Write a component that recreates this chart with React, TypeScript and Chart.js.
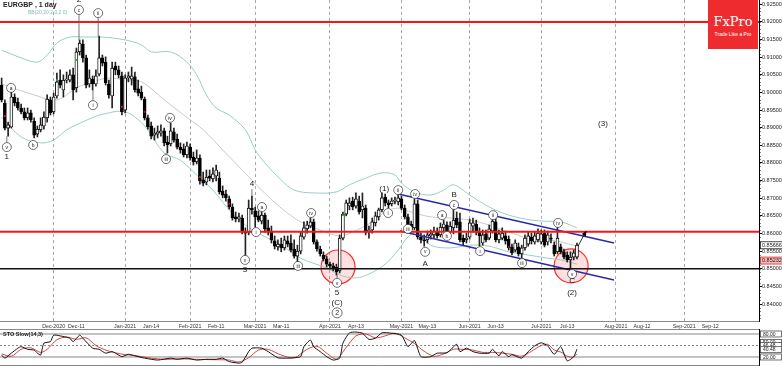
import React, { useEffect, useRef } from 'react';
import { Chart, registerables } from 'chart.js';

Chart.register(...registerables);

const FONT = "'Liberation Sans', Arial, sans-serif";
Chart.defaults.font.family = FONT;

// EURGBP daily candles, x = trading-day index (0 = 9 Nov 2020)
const opens = [
  0.9021, 0.8970, 0.8899, 0.8902, 0.8987, 0.8973, 0.8956, 0.8945, 0.8928, 0.8942,
  0.8919, 0.8882, 0.8894, 0.8905, 0.8928, 0.8979, 0.8945, 0.8990, 0.9035, 0.9007,
  0.9035, 0.9035, 0.9050, 0.9013, 0.9115, 0.9137, 0.9098, 0.9024, 0.9038, 0.9024,
  0.9052, 0.9098, 0.9086, 0.9024, 0.8990, 0.9075, 0.9064, 0.9047, 0.8950, 0.9041,
  0.9038, 0.9044, 0.9010, 0.9001, 0.8981, 0.8928, 0.8905, 0.8879, 0.8882, 0.8885,
  0.8891, 0.8859, 0.8854, 0.8888, 0.8868, 0.8845, 0.8840, 0.8823, 0.8845, 0.8817,
  0.8803, 0.8814, 0.8752, 0.8746, 0.8763, 0.8755, 0.8763, 0.8757, 0.8720, 0.8712,
  0.8698, 0.8675, 0.8647, 0.8641, 0.8644, 0.8604, 0.8604, 0.8672, 0.8664, 0.8650,
  0.8635, 0.8652, 0.8616, 0.8607, 0.8579, 0.8562, 0.8570, 0.8559, 0.8579, 0.8573,
  0.8556, 0.8536, 0.8550, 0.8590, 0.8613, 0.8621, 0.8633, 0.8576, 0.8556, 0.8539,
  0.8528, 0.8513, 0.8508, 0.8505, 0.8494, 0.8587, 0.8655, 0.8678, 0.8692, 0.8678,
  0.8692, 0.8667, 0.8672, 0.8604, 0.8610, 0.8630, 0.8647, 0.8667, 0.8703, 0.8687,
  0.8684, 0.8692, 0.8690, 0.8698, 0.8672, 0.8647, 0.8627, 0.8616, 0.8684, 0.8590,
  0.8582, 0.8582, 0.8593, 0.8596, 0.8607, 0.8596, 0.8616, 0.8624, 0.8604, 0.8616,
  0.8644, 0.8633, 0.8587, 0.8582, 0.8590, 0.8621, 0.8627, 0.8604, 0.8573, 0.8599,
  0.8587, 0.8607, 0.8633, 0.8582, 0.8587, 0.8593, 0.8584, 0.8562, 0.8553, 0.8562,
  0.8542, 0.8559, 0.8570, 0.8590, 0.8576, 0.8582, 0.8576, 0.8601, 0.8576, 0.8587,
  0.8567, 0.8548, 0.8562, 0.8548, 0.8539, 0.8525, 0.8533, 0.8533,
];
const highs = [
  0.9041, 0.8979, 0.8916, 0.9001, 0.8996, 0.8984, 0.8967, 0.8956, 0.8956, 0.8950,
  0.8928, 0.8905, 0.8928, 0.8945, 0.8993, 0.8987, 0.8998, 0.9055, 0.9064, 0.9050,
  0.9058, 0.9064, 0.9069, 0.9126, 0.9149, 0.9149, 0.9106, 0.9064, 0.9047, 0.9064,
  0.9160, 0.9106, 0.9101, 0.9035, 0.9086, 0.9086, 0.9075, 0.9058, 0.9050, 0.9058,
  0.9072, 0.9058, 0.9035, 0.9018, 0.8987, 0.8936, 0.8916, 0.8899, 0.8905, 0.8908,
  0.8899, 0.8876, 0.8913, 0.8899, 0.8882, 0.8857, 0.8854, 0.8859, 0.8854, 0.8831,
  0.8837, 0.8823, 0.8774, 0.8780, 0.8780, 0.8786, 0.8794, 0.8774, 0.8735, 0.8723,
  0.8706, 0.8684, 0.8661, 0.8658, 0.8652, 0.8616, 0.8695, 0.8706, 0.8675, 0.8664,
  0.8661, 0.8658, 0.8638, 0.8621, 0.8593, 0.8582, 0.8587, 0.8593, 0.8593, 0.8596,
  0.8582, 0.8567, 0.8604, 0.8633, 0.8635, 0.8644, 0.8641, 0.8582, 0.8564, 0.8548,
  0.8536, 0.8519, 0.8516, 0.8513, 0.8596, 0.8661, 0.8695, 0.8701, 0.8703, 0.8715,
  0.8706, 0.8715, 0.8681, 0.8621, 0.8644, 0.8661, 0.8672, 0.8715, 0.8712, 0.8695,
  0.8701, 0.8703, 0.8709, 0.8706, 0.8681, 0.8655, 0.8635, 0.8698, 0.8695, 0.8601,
  0.8596, 0.8607, 0.8610, 0.8618, 0.8616, 0.8630, 0.8638, 0.8633, 0.8633, 0.8678,
  0.8661, 0.8658, 0.8596, 0.8601, 0.8641, 0.8644, 0.8638, 0.8616, 0.8610, 0.8610,
  0.8624, 0.8652, 0.8644, 0.8610, 0.8616, 0.8604, 0.8593, 0.8570, 0.8582, 0.8573,
  0.8567, 0.8596, 0.8604, 0.8601, 0.8604, 0.8613, 0.8610, 0.8610, 0.8607, 0.8599,
  0.8576, 0.8627, 0.8570, 0.8556, 0.8548, 0.8548, 0.8553, 0.8573,
];
const lows = [
  0.8973, 0.8894, 0.8876, 0.8899, 0.8962, 0.8950, 0.8939, 0.8922, 0.8922, 0.8916,
  0.8871, 0.8874, 0.8888, 0.8896, 0.8916, 0.8936, 0.8939, 0.8984, 0.9013, 0.8987,
  0.9027, 0.9030, 0.8979, 0.9001, 0.9106, 0.9086, 0.9013, 0.9015, 0.9007, 0.9018,
  0.9047, 0.9075, 0.9021, 0.8984, 0.8956, 0.9050, 0.9041, 0.8936, 0.8942, 0.9030,
  0.9021, 0.9001, 0.8990, 0.8979, 0.8922, 0.8896, 0.8868, 0.8865, 0.8871, 0.8876,
  0.8848, 0.8828, 0.8848, 0.8859, 0.8840, 0.8828, 0.8817, 0.8814, 0.8808, 0.8794,
  0.8797, 0.8740, 0.8735, 0.8738, 0.8749, 0.8746, 0.8749, 0.8712, 0.8701, 0.8692,
  0.8669, 0.8638, 0.8633, 0.8633, 0.8599, 0.8536, 0.8596, 0.8655, 0.8618, 0.8633,
  0.8627, 0.8604, 0.8596, 0.8573, 0.8556, 0.8553, 0.8548, 0.8553, 0.8562, 0.8548,
  0.8530, 0.8519, 0.8542, 0.8584, 0.8601, 0.8616, 0.8570, 0.8550, 0.8536, 0.8522,
  0.8505, 0.8502, 0.8494, 0.8482, 0.8488, 0.8582, 0.8650, 0.8667, 0.8667, 0.8672,
  0.8655, 0.8644, 0.8596, 0.8587, 0.8601, 0.8621, 0.8638, 0.8661, 0.8678, 0.8672,
  0.8678, 0.8684, 0.8681, 0.8667, 0.8641, 0.8610, 0.8604, 0.8610, 0.8584, 0.8573,
  0.8564, 0.8573, 0.8584, 0.8587, 0.8587, 0.8590, 0.8604, 0.8587, 0.8596, 0.8599,
  0.8616, 0.8576, 0.8567, 0.8573, 0.8584, 0.8604, 0.8596, 0.8564, 0.8567, 0.8576,
  0.8582, 0.8601, 0.8576, 0.8573, 0.8582, 0.8570, 0.8553, 0.8539, 0.8548, 0.8536,
  0.8528, 0.8553, 0.8564, 0.8570, 0.8570, 0.8576, 0.8570, 0.8562, 0.8567, 0.8573,
  0.8536, 0.8542, 0.8542, 0.8528, 0.8519, 0.8502, 0.8525, 0.8528,
];
const closes = [
  0.8979, 0.8899, 0.8908, 0.8987, 0.8970, 0.8956, 0.8945, 0.8928, 0.8942, 0.8922,
  0.8879, 0.8896, 0.8908, 0.8930, 0.8981, 0.8942, 0.8987, 0.9030, 0.9021, 0.9035,
  0.9038, 0.9050, 0.9007, 0.9115, 0.9140, 0.9098, 0.9021, 0.9041, 0.9024, 0.9047,
  0.9098, 0.9083, 0.9027, 0.8993, 0.9069, 0.9064, 0.9050, 0.8945, 0.9041, 0.9047,
  0.9047, 0.9007, 0.8998, 0.8984, 0.8928, 0.8902, 0.8876, 0.8885, 0.8888, 0.8891,
  0.8857, 0.8851, 0.8891, 0.8865, 0.8845, 0.8837, 0.8823, 0.8848, 0.8814, 0.8803,
  0.8814, 0.8749, 0.8743, 0.8760, 0.8757, 0.8769, 0.8780, 0.8718, 0.8709, 0.8701,
  0.8675, 0.8644, 0.8641, 0.8647, 0.8604, 0.8601, 0.8672, 0.8667, 0.8647, 0.8638,
  0.8652, 0.8613, 0.8604, 0.8582, 0.8564, 0.8570, 0.8559, 0.8582, 0.8570, 0.8553,
  0.8536, 0.8550, 0.8593, 0.8616, 0.8624, 0.8633, 0.8576, 0.8556, 0.8542, 0.8528,
  0.8513, 0.8508, 0.8502, 0.8491, 0.8587, 0.8655, 0.8687, 0.8687, 0.8675, 0.8698,
  0.8661, 0.8678, 0.8604, 0.8610, 0.8633, 0.8650, 0.8667, 0.8701, 0.8687, 0.8681,
  0.8692, 0.8695, 0.8701, 0.8672, 0.8647, 0.8624, 0.8610, 0.8684, 0.8590, 0.8582,
  0.8579, 0.8596, 0.8599, 0.8607, 0.8593, 0.8618, 0.8627, 0.8601, 0.8621, 0.8638,
  0.8624, 0.8582, 0.8576, 0.8587, 0.8630, 0.8630, 0.8604, 0.8593, 0.8596, 0.8582,
  0.8613, 0.8635, 0.8582, 0.8599, 0.8601, 0.8579, 0.8559, 0.8545, 0.8573, 0.8542,
  0.8559, 0.8587, 0.8593, 0.8579, 0.8593, 0.8601, 0.8599, 0.8567, 0.8596, 0.8584,
  0.8542, 0.8587, 0.8548, 0.8533, 0.8525, 0.8533, 0.8545, 0.8567,
];

// Bollinger bands (20, 2.0): [index, price]
const bbUpper: [number, number][] = [
  [0, 0.9120], [6, 0.9098], [11, 0.9086], [14, 0.9106], [17, 0.9140], [21, 0.9157], [26, 0.9157],
  [31, 0.9157], [38, 0.9149], [43, 0.9135], [46, 0.9115], [52, 0.9115], [57, 0.9086], [60, 0.9050],
  [63, 0.8993], [66, 0.8956], [70, 0.8936], [75, 0.8894], [78, 0.8837], [81, 0.8800], [86, 0.8752],
  [90, 0.8723], [96, 0.8715], [103, 0.8718], [107, 0.8738], [112, 0.8757], [117, 0.8772], [121, 0.8766],
  [123, 0.8743], [127, 0.8718], [132, 0.8709], [136, 0.8723], [139, 0.8738], [144, 0.8709], [150, 0.8675],
  [156, 0.8652], [163, 0.8638], [167, 0.8635], [172, 0.8633], [175, 0.8624], [177, 0.8616],
];
const bbMiddle: [number, number][] = [
  [0, 0.9024], [10, 0.8993], [17, 0.8979], [23, 0.9013], [28, 0.9030], [33, 0.9041], [38, 0.9035],
  [43, 0.9030], [50, 0.8979], [56, 0.8936], [62, 0.8894], [68, 0.8837], [74, 0.8780], [80, 0.8723],
  [86, 0.8672], [92, 0.8633], [98, 0.8610], [104, 0.8593], [108, 0.8604], [114, 0.8633], [118, 0.8661],
  [122, 0.8672], [126, 0.8661], [132, 0.8647], [138, 0.8644], [144, 0.8638], [150, 0.8624], [156, 0.8604],
  [162, 0.8587], [168, 0.8582], [172, 0.8576], [177, 0.8564],
];
const bbLower: [number, number][] = [
  [0, 0.8930], [6, 0.8874], [12, 0.8857], [16, 0.8865], [20, 0.8894], [23, 0.8908], [27, 0.8925],
  [31, 0.8938], [38, 0.8945], [44, 0.8905], [50, 0.8828], [55, 0.8808], [60, 0.8766], [65, 0.8723],
  [70, 0.8667], [75, 0.8624], [80, 0.8596], [86, 0.8567], [92, 0.8530], [100, 0.8502], [104, 0.8482],
  [109, 0.8474], [113, 0.8485], [118, 0.8513], [122, 0.8553], [125, 0.8590], [128, 0.8604], [132, 0.8567],
  [138, 0.8559], [144, 0.8567], [150, 0.8564], [156, 0.8548], [162, 0.8539], [168, 0.8530], [172, 0.8525],
  [177, 0.8513],
];

// Slow stochastic (14,3): [index, value]
const stochK: [number, number][] = [
  [0, 25], [1, 17], [3, 30], [5, 43], [6, 47], [8, 40], [10, 38], [11, 30], [12, 25], [13, 56], [15, 60],
  [16, 77], [18, 75], [21, 69], [22, 60], [24, 77], [25, 69], [28, 43], [30, 40], [32, 30], [34, 34],
  [35, 30], [37, 21], [39, 27], [41, 23], [44, 17], [48, 12], [52, 17], [54, 14], [57, 17], [60, 12],
  [63, 14], [66, 14], [68, 17], [70, 8], [73, 4], [74, 6], [76, 34], [77, 43], [80, 43], [82, 34],
  [85, 18], [88, 17], [90, 18], [92, 21], [93, 47], [95, 64], [96, 47], [98, 34], [100, 21], [102, 12],
  [104, 17], [105, 56], [107, 83], [109, 85], [111, 82], [113, 66], [115, 69], [117, 83], [120, 82],
  [123, 77], [125, 47], [127, 63], [129, 21], [132, 21], [134, 30], [137, 31], [140, 53], [141, 34],
  [143, 43], [145, 34], [147, 30], [150, 30], [151, 40], [153, 23], [154, 34], [156, 21], [157, 26],
  [160, 17], [162, 34], [164, 49], [166, 57], [168, 49], [170, 27], [172, 47], [174, 10], [176, 21],
  [177, 40.48],
];
const stochD: [number, number][] = [
  [0, 28], [3, 22], [6, 40], [9, 44], [12, 32], [14, 40], [17, 65], [20, 72], [23, 66], [26, 70],
  [29, 50], [32, 38], [35, 31], [38, 26], [41, 24], [45, 18], [50, 14], [55, 15], [60, 14], [65, 13],
  [70, 12], [73, 7], [76, 18], [79, 38], [82, 40], [86, 25], [90, 18], [94, 40], [97, 48], [100, 30],
  [103, 15], [106, 45], [109, 75], [112, 80], [115, 70], [118, 75], [121, 82], [124, 70], [127, 55],
  [130, 35], [133, 22], [136, 28], [139, 40], [142, 40], [145, 38], [148, 32], [151, 32], [154, 30],
  [157, 27], [160, 22], [163, 35], [166, 50], [168, 53], [170, 38], [172, 33], [174, 22], [176, 20],
  [177, 28],
];

const xTicks: [number, string][] = [
  [16, 'Dec-2020'], [23, 'Dec-11'], [38, 'Jan-2021'], [46, 'Jan-14'], [58, 'Feb-2021'], [66, 'Feb-11'],
  [78, 'Mar-2021'], [86, 'Mar-11'], [101, 'Apr-2021'], [109, 'Apr-13'], [123, 'May-2021'], [131, 'May-13'],
  [144, 'Jun-2021'], [152, 'Jun-13'], [166, 'Jul-2021'], [174, 'Jul-13'], [189, 'Aug-2021'], [197, 'Aug-12'],
  [210, 'Sep-2021'], [218, 'Sep-12'],
];
const monthStarts = [16, 38, 58, 78, 101, 123, 144, 166, 189, 210];

const resistance = 0.92;
const pivotRed = 0.8605;
const support = 0.85;
const channelUpper: [number, number][] = [[122, 0.8712], [188.4, 0.8573]];
const channelLower: [number, number][] = [[122.5, 0.8607], [188.4, 0.8468]];
const circles: [number, number][] = [[103.5, 0.8505], [175.2, 0.8508]];
const arrowPts: [number, number][] = [[177.3, 0.8564], [179.6, 0.8603]];
const redMarks: [number, number][] = [[1, 0.8933], [37, 0.8959], [44, 0.8945], [61, 0.8760], [70, 0.8684], [156, 0.8562]];
const greenMarks: [number, number][] = [[17, 0.9035], [23, 0.9092], [105, 0.8652]];
const lastPrice = 0.85666;
const bidPrice = 0.85232;

type Wave = { i: number; p: number; t: string; c: boolean; to?: number; big?: boolean };
const waves: Wave[] = [
  { i: 1.6, p: 0.8845, t: 'v', c: true, to: 0.8876 },
  { i: 1.6, p: 0.8817, t: '1', c: false },
  { i: 2.9, p: 0.9013, t: 'a', c: true },
  { i: 9.7, p: 0.8851, t: 'b', c: true },
  { i: 23.8, p: 0.9262, t: '2', c: false },
  { i: 23.8, p: 0.9234, t: 'c', c: true, to: 0.9149 },
  { i: 29.7, p: 0.9225, t: 'ii', c: true, to: 0.9160 },
  { i: 28.1, p: 0.8964, t: 'i', c: true, to: 0.9007 },
  { i: 51.8, p: 0.8928, t: 'iv', c: true, to: 0.8913 },
  { i: 50.6, p: 0.8811, t: 'iii', c: true, to: 0.8828 },
  { i: 77.0, p: 0.8740, t: '4', c: false, to: 0.8706 },
  { i: 80.1, p: 0.8675, t: 'a', c: true },
  { i: 78.3, p: 0.8604, t: 'i', c: true },
  { i: 74.9, p: 0.8525, t: 'v', c: true, to: 0.8536 },
  { i: 74.9, p: 0.8496, t: '3', c: false },
  { i: 95.2, p: 0.8658, t: 'iv', c: true },
  { i: 91.2, p: 0.8508, t: 'iii', c: true, to: 0.8519 },
  { i: 103.2, p: 0.8460, t: 'v', c: true, to: 0.8482 },
  { i: 103.2, p: 0.8431, t: '5', c: false },
  { i: 103.2, p: 0.8403, t: '(C)', c: false },
  { i: 103.2, p: 0.8375, t: '2', c: true, big: true },
  { i: 117.7, p: 0.8726, t: '(1)', c: false },
  { i: 118.9, p: 0.8658, t: 'i', c: true },
  { i: 122.0, p: 0.8723, t: 'ii', c: true },
  { i: 125.0, p: 0.8613, t: 'iii', c: true },
  { i: 127.2, p: 0.8712, t: 'iv', c: true },
  { i: 130.3, p: 0.8548, t: 'v', c: true },
  { i: 130.3, p: 0.8514, t: 'A', c: false },
  { i: 135.5, p: 0.8652, t: 'a', c: true },
  { i: 137.0, p: 0.8593, t: 'b', c: true },
  { i: 139.2, p: 0.8709, t: 'B', c: false },
  { i: 139.2, p: 0.8681, t: 'c', c: true },
  { i: 147.2, p: 0.8550, t: 'i', c: true },
  { i: 151.2, p: 0.8652, t: 'ii', c: true },
  { i: 160.1, p: 0.8516, t: 'iii', c: true },
  { i: 171.2, p: 0.8630, t: 'iv', c: true },
  { i: 175.5, p: 0.8485, t: 'v', c: true },
  { i: 175.5, p: 0.8465, t: 'C', c: false },
  { i: 175.5, p: 0.8431, t: '(2)', c: false },
  { i: 185.0, p: 0.8910, t: '(3)', c: false },
];

const stochLabels: [number, string][] = [[80, '80.00'], [58, '50.00'], [50, '46.48'], [39, '40.48'], [20, '20.00']];

const X_MIN = -0.5;
const X_MAX = 233;

const pts = (a: [number, number][]) => a.map(([x, y]) => ({ x, y }));

const mainPlugin = {
  id: 'mainAnnot',
  afterDatasetsDraw(chart: any) {
    const { ctx, scales } = chart;
    const xs = scales.x;
    const ys = scales.y;
    ctx.save();
    const ax0 = xs.getPixelForValue(arrowPts[0][0]);
    const ay0 = ys.getPixelForValue(arrowPts[0][1]);
    const ax1 = xs.getPixelForValue(arrowPts[1][0]);
    const ay1 = ys.getPixelForValue(arrowPts[1][1]);
    const ang = Math.atan2(ay1 - ay0, ax1 - ax0);
    ctx.fillStyle = '#000';
    ctx.beginPath();
    ctx.moveTo(ax1 + Math.cos(ang) * 2, ay1 + Math.sin(ang) * 2);
    ctx.lineTo(ax1 + Math.cos(ang + 2.5) * 4, ay1 + Math.sin(ang + 2.5) * 4);
    ctx.lineTo(ax1 + Math.cos(ang - 2.5) * 4, ay1 + Math.sin(ang - 2.5) * 4);
    ctx.closePath();
    ctx.fill();

    waves.forEach((w) => {
      const x = xs.getPixelForValue(w.i);
      const y = ys.getPixelForValue(w.p);
      const r = w.big ? 5 : 4.5;
      if (w.to !== undefined) {
        const yt = ys.getPixelForValue(w.to);
        ctx.strokeStyle = '#555';
        ctx.lineWidth = 0.8;
        ctx.beginPath();
        const start = yt < y ? y - (w.c ? r : 5) : y + (w.c ? r : 5);
        ctx.moveTo(x, start);
        ctx.lineTo(x, yt);
        ctx.stroke();
      }
      ctx.textAlign = 'center';
      ctx.textBaseline = 'middle';
      if (w.c) {
        ctx.beginPath();
        ctx.arc(x, y, r, 0, Math.PI * 2);
        ctx.fillStyle = '#fff';
        ctx.fill();
        ctx.strokeStyle = '#333';
        ctx.lineWidth = 0.7;
        ctx.stroke();
        ctx.fillStyle = '#222';
        ctx.font = `${w.big ? 7 : 5}px ${FONT}`;
        ctx.fillText(w.t, x, y + 0.3);
      } else {
        ctx.fillStyle = '#222';
        ctx.font = `8px ${FONT}`;
        ctx.fillText(w.t, x, y);
      }
    });

    ctx.textAlign = 'left';
    ctx.textBaseline = 'middle';
    ctx.fillStyle = '#222';
    ctx.font = `bold 7px ${FONT}`;
    ctx.fillText('EURGBP , 1 day', 3, 5);
    ctx.fillStyle = '#7fb9b6';
    ctx.font = `5px ${FONT}`;
    ctx.fillText('BB(20,20,2.0,2.0)', 28, 12.5);

    const right = chart.chartArea.right;
    ctx.strokeStyle = '#000';
    ctx.lineWidth = 1;
    for (let v = 0.836; v < 0.926; v += 0.001) {
      const yy = Math.round(ys.getPixelForValue(v)) + 0.5;
      ctx.beginPath();
      ctx.moveTo(right, yy);
      ctx.lineTo(right + 1.5, yy);
      ctx.stroke();
    }

    const box = (v: number, txt: string, fill: string, stroke: string) => {
      const yy = ys.getPixelForValue(v);
      ctx.fillStyle = fill;
      ctx.fillRect(right + 1, yy - 3.5, 23, 7);
      ctx.strokeStyle = stroke;
      ctx.lineWidth = 0.8;
      ctx.strokeRect(right + 1.5, yy - 3.5, 23, 7);
      ctx.fillStyle = '#222';
      ctx.font = `5.5px ${FONT}`;
      ctx.textBaseline = 'middle';
      ctx.fillText(txt, right + 3, yy + 0.3);
    };
    box(lastPrice, lastPrice.toFixed(5), '#fff', '#222');
    box(bidPrice, bidPrice.toFixed(5), '#f3b7b7', '#d33');
    ctx.restore();
  },
};

const stochPlugin = {
  id: 'stochAnnot',
  afterDatasetsDraw(chart: any) {
    const { ctx, chartArea, scales } = chart;
    const ys = scales.y;
    ctx.save();
    ctx.strokeStyle = '#888';
    ctx.lineWidth = 1;
    ctx.beginPath();
    ctx.moveTo(0, 0.5);
    ctx.lineTo(chartArea.right, 0.5);
    ctx.moveTo(0, chartArea.bottom - 0.5);
    ctx.lineTo(chartArea.right, chartArea.bottom - 0.5);
    ctx.stroke();
    ctx.fillStyle = '#222';
    ctx.font = `bold 5.5px ${FONT}`;
    ctx.textAlign = 'left';
    ctx.textBaseline = 'middle';
    ctx.fillText('STO Slow(14,3)', 3, 5);
    stochLabels.forEach(([v, t]) => {
      const yy = ys.getPixelForValue(v);
      ctx.fillStyle = '#fff';
      ctx.fillRect(chartArea.right + 1, yy - 3, 22, 6);
      ctx.strokeStyle = '#333';
      ctx.lineWidth = 0.7;
      ctx.strokeRect(chartArea.right + 1.5, yy - 3, 21, 6);
      ctx.fillStyle = '#222';
      ctx.font = `5px ${FONT}`;
      ctx.fillText(t, chartArea.right + 4, yy + 0.3);
    });
    ctx.restore();
  },
};

export default function App() {
  const mainRef = useRef<HTMLCanvasElement>(null);
  const stochRef = useRef<HTMLCanvasElement>(null);

  useEffect(() => {
    document.body.style.margin = '0';
    const idx = opens.map((_, i) => i);
    const bodies = idx.map((i) => ({ x: i, y: [Math.min(opens[i], closes[i]), Math.max(opens[i], closes[i])] }));
    const bodyColors = idx.map((i) => (closes[i] >= opens[i] ? '#ffffff' : '#000000'));
    const wicks = idx.map((i) => ({ x: i, y: [lows[i], highs[i]] }));
    const hline = (v: number) => [{ x: X_MIN, y: v }, { x: X_MAX, y: v }];

    const main = new Chart(mainRef.current as HTMLCanvasElement, {
      type: 'bar',
      data: {
        datasets: [
          { type: 'line', data: pts(redMarks), showLine: false, pointRadius: 1.3, pointStyle: 'rect', pointBackgroundColor: '#e01010', pointBorderWidth: 0, order: 0 } as any,
          { type: 'line', data: pts(greenMarks), showLine: false, pointRadius: 1.3, pointStyle: 'rect', pointBackgroundColor: '#20b030', pointBorderWidth: 0, order: 0 } as any,
          { type: 'line', data: pts(arrowPts), borderColor: '#000', borderWidth: 0.8, pointRadius: 0, order: 0 } as any,
          { type: 'line', data: hline(resistance), borderColor: '#ff1414', borderWidth: 2, pointRadius: 0, order: 1 } as any,
          { type: 'line', data: hline(pivotRed), borderColor: '#ff1414', borderWidth: 2, pointRadius: 0, order: 1 } as any,
          { type: 'line', data: hline(support), borderColor: '#111', borderWidth: 1.5, pointRadius: 0, order: 1 } as any,
          { type: 'line', data: pts(channelUpper), borderColor: '#2a2aa8', borderWidth: 1.5, pointRadius: 0, order: 1 } as any,
          { type: 'line', data: pts(channelLower), borderColor: '#2a2aa8', borderWidth: 1.5, pointRadius: 0, order: 1 } as any,
          { type: 'bar', data: bodies, backgroundColor: bodyColors, borderColor: '#000', borderWidth: 0.9, borderSkipped: false, barThickness: 3, grouped: false, order: 2 } as any,
          { type: 'bar', data: wicks, backgroundColor: '#222', borderWidth: 0, barThickness: 1, grouped: false, order: 3 } as any,
          { type: 'line', data: pts(bbUpper), borderColor: '#9ccbc8', borderWidth: 1, pointRadius: 0, tension: 0.35, order: 4 } as any,
          { type: 'line', data: pts(bbMiddle), borderColor: '#bdbdbd', borderWidth: 0.8, pointRadius: 0, tension: 0.35, order: 4 } as any,
          { type: 'line', data: pts(bbLower), borderColor: '#9ccbc8', borderWidth: 1, pointRadius: 0, tension: 0.35, order: 4 } as any,
          { type: 'line', data: pts(circles), showLine: false, pointRadius: 17, pointBackgroundColor: 'rgba(255,80,80,0.18)', pointBorderColor: '#ff2a2a', pointBorderWidth: 1.2, order: 5 } as any,
        ],
      },
      options: {
        animation: false,
        responsive: false,
        events: [],
        layout: { padding: 0, autoPadding: false },
        plugins: { legend: { display: false }, tooltip: { enabled: false } },
        scales: {
          x: {
            type: 'linear',
            min: X_MIN,
            max: X_MAX,
            offset: false,
            grid: {
              offset: false,
              drawTicks: false,
              lineWidth: 1,
              color: (c: any) => (c.tick && monthStarts.includes(c.tick.value) ? '#a8a8a8' : 'rgba(0,0,0,0)'),
            },
            border: { display: true, color: '#888', dash: [3, 3] },
            ticks: {
              autoSkip: false,
              maxRotation: 0,
              padding: 2,
              color: '#333',
              font: { size: 5.3, family: FONT },
              callback: (v: any) => {
                const f = xTicks.find((t) => t[0] === v);
                return f ? f[1] : '';
              },
            },
            afterBuildTicks: (s: any) => {
              s.ticks = xTicks.map((t) => ({ value: t[0] }));
            },
            afterFit: (s: any) => {
              s.height = 9;
              s.paddingLeft = 0;
              s.paddingRight = 0;
            },
          } as any,
          y: {
            type: 'linear',
            position: 'right',
            min: 0.83518,
            max: 0.92622,
            beginAtZero: false,
            grid: { drawOnChartArea: false, drawTicks: true, tickLength: 3, tickColor: '#000', color: '#000' },
            border: { display: true, color: '#000' },
            ticks: {
              stepSize: 0.005,
              includeBounds: false,
              autoSkip: false,
              padding: 0,
              color: '#222',
              font: { size: 5.5, family: FONT },
              callback: (v: any) => Number(v).toFixed(5),
            },
            afterFit: (s: any) => {
              s.width = 23;
              s.paddingTop = 0;
              s.paddingBottom = 0;
            },
          } as any,
        },
      },
      plugins: [mainPlugin],
    });

    const level = (v: number) => [{ x: X_MIN, y: v }, { x: X_MAX, y: v }];
    const stoch = new Chart(stochRef.current as HTMLCanvasElement, {
      type: 'line',
      data: {
        datasets: [
          { data: pts(stochK), borderColor: '#111', borderWidth: 1, pointRadius: 0, tension: 0.2 } as any,
          { data: pts(stochD), borderColor: '#d43030', borderWidth: 0.9, pointRadius: 0, tension: 0.3 } as any,
          { data: level(80), borderColor: '#888', borderWidth: 1, pointRadius: 0 } as any,
          { data: level(50), borderColor: '#888', borderWidth: 1, borderDash: [2, 2], pointRadius: 0 } as any,
          { data: level(20), borderColor: '#888', borderWidth: 1, pointRadius: 0 } as any,
        ],
      },
      options: {
        animation: false,
        responsive: false,
        events: [],
        layout: { padding: 0, autoPadding: false },
        plugins: { legend: { display: false }, tooltip: { enabled: false } },
        scales: {
          x: { type: 'linear', min: X_MIN, max: X_MAX, display: false },
          y: {
            type: 'linear',
            position: 'right',
            min: -3.5,
            max: 93,
            grid: { display: false },
            border: { display: true, color: '#000' },
            ticks: { display: false },
            afterFit: (s: any) => {
              s.width = 23;
            },
          } as any,
        },
      },
      plugins: [stochPlugin],
    });

    return () => {
      main.destroy();
      stoch.destroy();
    };
  }, []);

  return (
    <div style={{ position: 'fixed', left: 0, top: 0, width: 782, height: 366, background: '#fff', overflow: 'hidden' }}>
      <canvas ref={mainRef} width={782} height={330} style={{ position: 'absolute', left: 0, top: 0, display: 'block' }} />
      <canvas ref={stochRef} width={782} height={37} style={{ position: 'absolute', left: 0, top: 329, display: 'block' }} />
      <div
        style={{
          position: 'absolute',
          left: 708,
          top: 0,
          width: 50,
          height: 49,
          background: '#ee2b2f',
          color: '#fff',
          textAlign: 'center',
        }}
      >
        <div style={{ fontFamily: "'DejaVu Serif', 'Liberation Serif', serif", fontSize: 13, lineHeight: '13px', paddingTop: 15 }}>FxPro</div>
        <div style={{ fontFamily: FONT, fontSize: 5, lineHeight: '6px', marginTop: 3, whiteSpace: 'nowrap' }}>Trade Like a Pro</div>
      </div>
    </div>
  );
}
